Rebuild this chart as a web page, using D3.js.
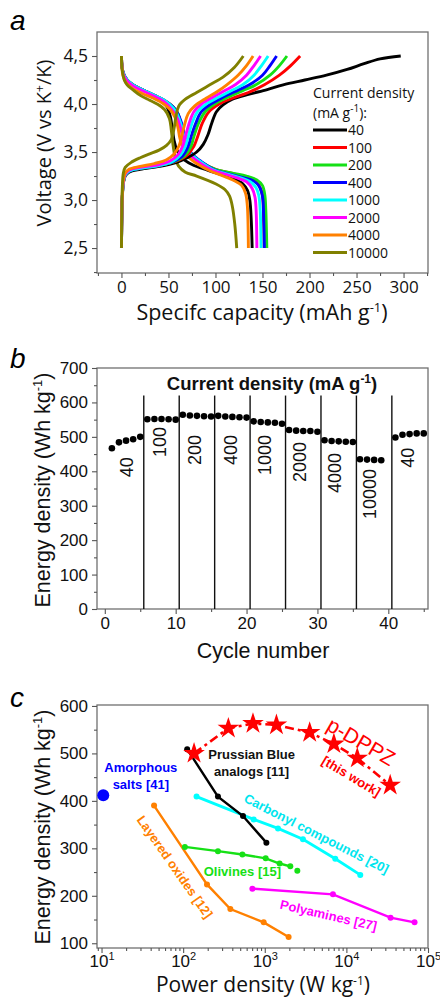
<!DOCTYPE html>
<html>
<head>
<meta charset="utf-8">
<script src="https://cdn.jsdelivr.net/npm/d3@7"></script>
<style>
body { margin: 0; background: #fff; }
svg { display: block; }
</style>
</head>
<body>
<svg id="fig" width="440" height="997"></svg>
<script>
// ---------- panel a : charge / discharge profiles ----------
var currents = ["40", "100", "200", "400", "1000", "2000", "4000", "10000"];
var curveColors = ["#000000", "#ff0000", "#16e016", "#0000ff", "#00ffff", "#ff00ff", "#ff8000", "#808000"];

// [capacity mAh/g, voltage V]
var chargeCurves = [
  [[0,2.5],[0.5,2.9],[1,3.04],[2,3.17],[4,3.25],[8,3.29],[20,3.32],[40,3.35],[58,3.39],[70,3.44],[80,3.5],[87,3.58],[92,3.68],[96,3.8],[101,3.92],[108,3.99],[118,4.05],[135,4.1],[155,4.15],[172,4.2],[195,4.25],[218,4.3],[240,4.36],[258,4.42],[275,4.47],[297,4.5]],
  [[0,2.5],[0.5,2.9],[1,3.05],[2,3.18],[4,3.26],[8,3.3],[20,3.33],[40,3.36],[57,3.4],[69,3.46],[77,3.56],[81,3.66],[86,3.8],[93,3.92],[104,4.0],[118,4.06],[135,4.12],[152,4.2],[168,4.3],[180,4.4],[190,4.5]],
  [[0,2.5],[0.5,2.9],[1,3.05],[2,3.18],[4,3.26],[8,3.3],[20,3.33],[40,3.36],[56,3.4],[67,3.46],[74,3.56],[77,3.66],[82,3.8],[89,3.92],[99,4.0],[113,4.07],[129,4.14],[143,4.2],[158,4.3],[168,4.4],[176,4.5]],
  [[0,2.5],[0.5,2.9],[1,3.05],[2,3.18],[4,3.26],[8,3.3],[20,3.33],[40,3.36],[55,3.4],[65,3.46],[71,3.56],[74,3.66],[79,3.8],[85,3.92],[95,4.0],[108,4.07],[123,4.14],[136,4.2],[150,4.3],[158,4.4],[165,4.5]],
  [[0,2.5],[0.5,2.9],[1,3.05],[2,3.18],[4,3.26],[8,3.3],[20,3.33],[40,3.36],[54,3.4],[63,3.47],[68,3.56],[71,3.66],[75,3.8],[81,3.92],[90,4.0],[103,4.07],[117,4.14],[129,4.2],[141,4.3],[149,4.4],[156,4.5]],
  [[0,2.5],[0.5,2.9],[1,3.06],[2,3.19],[4,3.27],[8,3.31],[20,3.34],[40,3.37],[52,3.41],[60,3.47],[65,3.56],[68,3.66],[72,3.8],[77,3.92],[85,4.0],[97,4.07],[110,4.14],[121,4.2],[133,4.3],[141,4.4],[148,4.5]],
  [[0,2.5],[0.5,2.9],[1,3.08],[2,3.2],[4,3.28],[8,3.32],[20,3.35],[35,3.38],[48,3.42],[56,3.48],[61,3.56],[64,3.66],[67,3.78],[71,3.9],[78,3.98],[90,4.06],[102,4.13],[112,4.2],[124,4.3],[133,4.4],[140,4.5]],
  [[0,2.5],[0.5,2.95],[1,3.15],[2,3.28],[4,3.34],[10,3.39],[20,3.44],[30,3.48],[40,3.52],[48,3.57],[53,3.63],[56,3.75],[58,3.87],[61,3.98],[68,4.05],[80,4.12],[94,4.2],[108,4.28],[120,4.38],[129.6,4.5]]
];

var dischargeCurves = [
  [[0,4.5],[0.5,4.4],[2,4.32],[6,4.25],[12,4.2],[22,4.15],[34,4.09],[44,4.03],[49,3.96],[52,3.87],[54,3.75],[56,3.62],[59,3.52],[64,3.44],[75,3.37],[92,3.31],[108,3.26],[120,3.22],[129,3.17],[134,3.1],[136.5,3.0],[138,2.8],[139,2.5]],
  [[0,4.5],[0.5,4.4],[2,4.32],[6,4.25],[12,4.2],[22,4.15],[35,4.09],[47,4.03],[55,3.97],[60,3.9],[63,3.8],[66,3.68],[69,3.56],[74,3.48],[84,3.4],[100,3.32],[117,3.28],[132,3.24],[142,3.2],[147,3.14],[150,3.05],[151,2.9],[151.7,2.5]],
  [[0,4.5],[0.5,4.4],[2,4.32],[6,4.25],[12,4.2],[22,4.15],[35,4.09],[47,4.03],[55,3.97],[60,3.9],[63,3.8],[66,3.68],[69,3.56],[74,3.48],[84,3.4],[100,3.32],[118,3.28],[133,3.25],[144,3.21],[150,3.15],[152.5,3.05],[153.5,2.9],[154.6,2.5]],
  [[0,4.5],[0.5,4.4],[2,4.32],[6,4.25],[12,4.2],[22,4.15],[35,4.09],[47,4.03],[55,3.97],[60,3.9],[64,3.8],[67,3.68],[70,3.56],[75,3.48],[85,3.4],[100,3.31],[115,3.27],[130,3.23],[140,3.2],[146,3.15],[149,3.08],[150.5,3.0],[151.3,2.8],[152,2.5]],
  [[0,4.5],[0.5,4.4],[2,4.32],[6,4.25],[12,4.2],[22,4.15],[35,4.09],[47,4.03],[55,3.96],[59,3.9],[63,3.8],[66,3.68],[69,3.56],[74,3.48],[84,3.4],[99,3.31],[113,3.27],[127,3.23],[137,3.19],[143,3.13],[146,3.05],[147.5,2.9],[148.5,2.5]],
  [[0,4.5],[0.5,4.4],[2,4.31],[6,4.24],[12,4.19],[22,4.14],[35,4.08],[46,4.02],[53,3.95],[58,3.88],[62,3.78],[65,3.66],[68,3.55],[73,3.47],[83,3.39],[97,3.31],[110,3.27],[123,3.23],[133,3.19],[139,3.12],[142,3.03],[143.2,2.9],[144,2.5]],
  [[0,4.5],[0.5,4.4],[1.5,4.3],[5,4.22],[12,4.16],[22,4.11],[34,4.06],[45,4.0],[52,3.94],[57,3.86],[60,3.76],[62,3.65],[65,3.55],[70,3.46],[80,3.38],[95,3.3],[108,3.25],[120,3.2],[128,3.15],[132,3.07],[133.8,2.95],[134.5,2.8],[135,2.5]],
  [[0,4.5],[0.3,4.4],[1,4.34],[3,4.25],[6,4.2],[12,4.15],[20,4.09],[30,4.04],[38,4.0],[46,3.94],[51,3.85],[53,3.73],[54.5,3.6],[57,3.45],[61,3.35],[68,3.29],[80,3.25],[100,3.17],[110,3.11],[115,3.04],[118,2.93],[120.5,2.75],[122.6,2.5]]
];

var capTicks = [0, 50, 100, 150, 200, 250, 300];
var voltTicks = [2.5, 3.0, 3.5, 4.0, 4.5];

// ---------- panel b : energy density per cycle ----------
var cycles = [1,2,3,4,5, 6,7,8,9,10, 11,12,13,14,15, 16,17,18,19,20, 21,22,23,24,25, 26,27,28,29,30, 31,32,33,34,35, 36,37,38,39, 41,42,43,44,45];
var energy = [467,484,489,493,500, 551,552,552,551,550, 564,562,561,560,559, 561,559,558,557,556, 545,543,542,541,538, 520,518,517,517,515, 490,488,487,486,485, 435,434,433,432, 498,506,508,510,510];
var rateEdges = [5.5, 10.5, 15.5, 20.5, 25.5, 30.5, 35.5, 40.5];
var rateNames = ["40", "100", "200", "400", "1000", "2000", "4000", "10000", "40"];
var rateNameCycle = [3.1, 7.8, 12.7, 17.7, 22.6, 27.5, 32.5, 37.4, 42.8];
var rateNameEnergy = [412, 485, 462, 462, 447, 427, 395, 334, 439];
var cycleTicks = [0, 10, 20, 30, 40];
var energyTicksB = [0, 100, 200, 300, 400, 500, 600, 700];

// ---------- panel c : Ragone plot ----------
var pdppzPower = [136, 358, 717, 1390, 3550, 7030, 13600, 34400];
var pdppzEnergy = [500, 553, 563, 560, 544, 520, 490, 433];
var prussianPower = [112, 267, 541, 1047];
var prussianEnergy = [509, 409, 368, 312];
var amorphousPower = [10.5];
var amorphousEnergy = [412];
var carbonylPower = [146, 731, 1452, 2937, 7310, 14800];
var carbonylEnergy = [409, 361, 342, 319, 278, 244];
var olivinePower = [105, 267, 532, 1026, 1520, 2055];
var olivineEnergy = [303, 294, 287, 279, 268, 262];
var olivineExtraPower = [2506];
var olivineExtraEnergy = [253];
var layeredPower = [44, 196, 379, 970, 1960];
var layeredEnergy = [390, 224, 172, 144, 113];
var polyaminePower = [705, 6840, 34750, 68400];
var polyamineEnergy = [215, 203, 154, 144];
var powerTicks = [10, 100, 1000, 10000, 100000];
var energyTicksC = [100, 200, 300, 400, 500, 600];

var svg = d3.select("#fig");
var L = 97, R = 428;
var frameColor = "#707070";
var sansA = "'Open Sans', sans-serif";
var arial = "'Liberation Sans', Arial, sans-serif";

function drawFrame(top, bottom) {
  svg.append("rect")
    .attr("x", L).attr("y", top)
    .attr("width", R - L).attr("height", bottom - top)
    .attr("fill", "none").attr("stroke", frameColor).attr("stroke-width", 1.3);
}

function styleAxis(g, font, size) {
  g.select(".domain").remove();
  g.selectAll(".tick line").attr("stroke", "#555").attr("stroke-width", 1.1);
  g.selectAll("text").attr("font-family", font).attr("font-size", size).attr("fill", "#111");
}

function addAxis(axisFn, scale, pos, horiz, majors, minors, fmt, font, size, pad) {
  var gMin = svg.append("g").attr("transform", horiz ? "translate(0," + pos + ")" : "translate(" + pos + ",0)");
  gMin.call(axisFn(scale).tickValues(minors).tickSize(3).tickFormat(""));
  styleAxis(gMin, font, size);
  var gMaj = svg.append("g").attr("transform", horiz ? "translate(0," + pos + ")" : "translate(" + pos + ",0)");
  gMaj.call(axisFn(scale).tickValues(majors).tickSize(5).tickPadding(pad).tickFormat(fmt));
  styleAxis(gMaj, font, size);
  return gMaj;
}

function supText(sel, parts, supSize) {
  // parts: [normal, sup, normal]
  sel.append("tspan").text(parts[0]);
  sel.append("tspan").attr("dy", -supSize * 0.6).attr("font-size", supSize).text(parts[1]);
  sel.append("tspan").attr("dy", supSize * 0.6).text(parts[2]);
}

// ================= panel a =================
var xa = d3.scaleLinear().domain([-26, 326]).range([L, R]);
var ya = d3.scaleLinear().domain([2.24, 4.75]).range([273, 32]);
drawFrame(32, 273);

var capMinor = d3.range(-25, 326, 25).filter(function (v) { return v % 50 !== 0; });
addAxis(d3.axisBottom, xa, 273, true, capTicks, capMinor, d3.format("d"), sansA, 17, 3);
var voltMinor = [2.25, 2.75, 3.25, 3.75, 4.25];
addAxis(d3.axisLeft, ya, L, false, voltTicks, voltMinor,
  function (d) { return d3.format(".1f")(d).replace(".", ","); }, sansA, 17.5, 4);

var lineA = d3.line()
  .x(function (d) { return xa(d[0]); })
  .y(function (d) { return ya(d[1]); })
  .curve(d3.curveCatmullRom.alpha(0.5));

var curvesG = svg.append("g");
currents.forEach(function (c, i) {
  curvesG.append("path").attr("d", lineA(dischargeCurves[i]))
    .attr("fill", "none").attr("stroke", curveColors[i]).attr("stroke-width", 2.9)
    .attr("stroke-linejoin", "round");
});
currents.forEach(function (c, i) {
  curvesG.append("path").attr("d", lineA(chargeCurves[i]))
    .attr("fill", "none").attr("stroke", curveColors[i]).attr("stroke-width", 2.9)
    .attr("stroke-linejoin", "round");
});

// legend
var leg = svg.append("g").attr("font-family", sansA).attr("font-size", 14).attr("fill", "#111");
leg.append("text").attr("x", 313).attr("y", 98).text("Current density");
supText(leg.append("text").attr("x", 313).attr("y", 118), ["(mA g", "-1", "):"], 10);
currents.forEach(function (c, i) {
  var yy = 130 + i * 17.5;
  leg.append("line").attr("x1", 313).attr("x2", 347).attr("y1", yy).attr("y2", yy)
    .attr("stroke", curveColors[i]).attr("stroke-width", 3.2);
  leg.append("text").attr("x", 348).attr("y", yy + 5).text(c);
});

// titles
svg.append("text").attr("x", 262).attr("y", 320).attr("text-anchor", "middle")
  .attr("font-family", sansA).attr("font-size", 21.5).attr("fill", "#111")
  .call(supText, ["Specifc capacity (mAh g", "-1", ")"], 13);
svg.append("text").attr("transform", "translate(51,143) rotate(-90)").attr("text-anchor", "middle")
  .attr("font-family", sansA).attr("font-size", 20).attr("fill", "#111")
  .call(supText, ["Voltage (V vs K", "+", "/K)"], 12);
svg.append("text").attr("x", 10).attr("y", 30).attr("font-family", arial).attr("font-style", "italic")
  .attr("font-size", 28).text("a");

// ================= panel b =================
var xb = d3.scaleLinear().domain([-1.1, 45.6]).range([L, R]);
var yb = d3.scaleLinear().domain([0, 700]).range([609, 368]);
drawFrame(368, 609);
addAxis(d3.axisBottom, xb, 609, true, cycleTicks, [5, 15, 25, 35, 45], d3.format("d"), arial, 17, 3);
addAxis(d3.axisLeft, yb, L, false, energyTicksB, d3.range(50, 700, 100), d3.format("d"), arial, 17, 4);

svg.append("g").selectAll("line").data(rateEdges).enter().append("line")
  .attr("x1", function (d) { return xb(d); }).attr("x2", function (d) { return xb(d); })
  .attr("y1", yb(0)).attr("y2", yb(620))
  .attr("stroke", "#111").attr("stroke-width", 1.4);

svg.append("g").selectAll("circle").data(cycles).enter().append("circle")
  .attr("cx", function (d) { return xb(d); })
  .attr("cy", function (d, i) { return yb(energy[i]); })
  .attr("r", 3.3).attr("fill", "#000");

svg.append("g").selectAll("text").data(rateNames).enter().append("text")
  .attr("transform", function (d, i) {
    return "translate(" + xb(rateNameCycle[i]) + "," + yb(rateNameEnergy[i]) + ") rotate(-90)";
  })
  .attr("text-anchor", "middle").attr("dy", "0.35em")
  .attr("font-family", arial).attr("font-size", 18).attr("fill", "#111")
  .text(function (d) { return d; });

svg.append("text").attr("x", 272).attr("y", 390).attr("text-anchor", "middle")
  .attr("font-family", arial).attr("font-weight", "bold").attr("font-size", 18.5).attr("fill", "#111")
  .call(supText, ["Current density (mA g", "-1", ")"], 12);
svg.append("text").attr("x", 263).attr("y", 658).attr("text-anchor", "middle")
  .attr("font-family", arial).attr("font-size", 21.5).attr("fill", "#111").text("Cycle number");
svg.append("text").attr("transform", "translate(50,490) rotate(-90)").attr("text-anchor", "middle")
  .attr("font-family", arial).attr("font-size", 21.5).attr("fill", "#111")
  .call(supText, ["Energy density (Wh kg", "-1", ")"], 13);
svg.append("text").attr("x", 10).attr("y", 368).attr("font-family", arial).attr("font-style", "italic")
  .attr("font-size", 28).text("b");

// ================= panel c =================
var xc = d3.scaleLog().domain([8.8, 1e5]).range([L, R]);
var yc = d3.scaleLinear().domain([90, 602]).range([948, 705]);
drawFrame(705, 948);

var powerMinor = [];
[10, 100, 1000, 10000].forEach(function (dec) {
  for (var k = 2; k <= 9; k++) powerMinor.push(dec * k);
});
powerMinor.push(9);
var gx = addAxis(d3.axisBottom, xc, 948, true, powerTicks, powerMinor, function () { return ""; }, arial, 17, 2);
gx.selectAll(".tick text").each(function (d) {
  var t = d3.select(this);
  t.text(null);
  t.append("tspan").text("10");
  t.append("tspan").attr("dy", "-0.6em").attr("font-size", 11).text(Math.round(Math.log10(d)));
});
addAxis(d3.axisLeft, yc, L, false, energyTicksC, [150, 250, 350, 450, 550], d3.format("d"), arial, 17, 4);

function series(power, en, color, width) {
  var pts = power.map(function (p, i) { return [p, en[i]]; });
  var ln = d3.line().x(function (d) { return xc(d[0]); }).y(function (d) { return yc(d[1]); });
  svg.append("path").attr("d", ln(pts)).attr("fill", "none")
    .attr("stroke", color).attr("stroke-width", width);
  svg.append("g").selectAll("circle").data(pts).enter().append("circle")
    .attr("cx", function (d) { return xc(d[0]); }).attr("cy", function (d) { return yc(d[1]); })
    .attr("r", 3).attr("fill", color);
}
series(layeredPower, layeredEnergy, "#ff8000", 2.4);
series(olivinePower, olivineEnergy, "#16e016", 2.4);
series(olivineExtraPower, olivineExtraEnergy, "#16e016", 2.4);
series(polyaminePower, polyamineEnergy, "#ff00ff", 2.4);
series(carbonylPower, carbonylEnergy, "#00ffff", 2.8);
series(prussianPower, prussianEnergy, "#000000", 2.4);

svg.append("circle").attr("cx", xc(amorphousPower[0])).attr("cy", yc(amorphousEnergy[0]))
  .attr("r", 6).attr("fill", "#0000ff");

var starPts = pdppzPower.map(function (p, i) { return [p, pdppzEnergy[i]]; });
svg.append("path")
  .attr("d", d3.line().x(function (d) { return xc(d[0]); }).y(function (d) { return yc(d[1]); })(starPts))
  .attr("fill", "none").attr("stroke", "#ff0000").attr("stroke-width", 2.6)
  .attr("stroke-dasharray", "9,4,3,4");
svg.append("g").selectAll("path").data(starPts).enter().append("path")
  .attr("transform", function (d) { return "translate(" + xc(d[0]) + "," + yc(d[1]) + ")"; })
  .attr("d", d3.symbol().type(d3.symbolStar).size(145))
  .attr("fill", "#ff0000");

var notes = [
  { lines: ["p-DPPZ"], p: 15200, e: 525, rot: 30, color: "#ff0000", size: 21, bold: false },
  { lines: ["[this work]"], p: 11500, e: 452, rot: 31, color: "#ff0000", size: 13, bold: true },
  { lines: ["Prussian Blue", "analogs [11]"], p: 690, e: 479, rot: 0, color: "#111", size: 13, bold: true },
  { lines: ["Amorphous", "salts [41]"], p: 30.3, e: 452, rot: 0, color: "#0000ff", size: 13, bold: true },
  { lines: ["Carbonyl compounds [20]"], p: 4290, e: 331, rot: 27, color: "#00e5ee", size: 13, bold: true },
  { lines: ["Olivines [15]"], p: 532, e: 252, rot: 0, color: "#16e016", size: 13, bold: true },
  { lines: ["Layered oxides [12]"], p: 79, e: 261, rot: 55, color: "#ff8000", size: 13, bold: true },
  { lines: ["Polyamines [27]"], p: 6050, e: 159, rot: 13, color: "#ff00ff", size: 13, bold: true }
];
notes.forEach(function (n) {
  var t = svg.append("text")
    .attr("transform", "translate(" + xc(n.p) + "," + yc(n.e) + ") rotate(" + n.rot + ")")
    .attr("text-anchor", "middle").attr("font-family", arial)
    .attr("font-size", n.size).attr("font-weight", n.bold ? "bold" : "normal").attr("fill", n.color);
  n.lines.forEach(function (s, k) {
    t.append("tspan").attr("x", 0).attr("y", (k - (n.lines.length - 1) / 2) * 17 + n.size * 0.35).text(s);
  });
});

svg.append("text").attr("x", 263).attr("y", 992).attr("text-anchor", "middle")
  .attr("font-family", sansA).attr("font-size", 21).attr("fill", "#111")
  .call(supText, ["Power density (W kg", "-1", ")"], 12);
svg.append("text").attr("transform", "translate(50,827) rotate(-90)").attr("text-anchor", "middle")
  .attr("font-family", arial).attr("font-size", 21.5).attr("fill", "#111")
  .call(supText, ["Energy density (Wh kg", "-1", ")"], 13);
svg.append("text").attr("x", 10).attr("y", 707).attr("font-family", arial).attr("font-style", "italic")
  .attr("font-size", 28).text("c");
</script>
</body>
</html>
